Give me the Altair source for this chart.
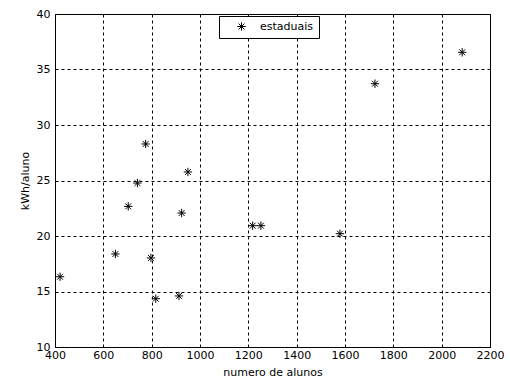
import altair as alt
import pandas as pd

# Number of students and energy use per student for each state school
alunos = [421, 650, 703, 741, 775, 797, 817, 913, 924, 950, 1218, 1252, 1579, 1724, 2085]
kwh_aluno = [16.33, 18.38, 22.67, 24.77, 28.29, 18.02, 14.35, 14.6, 22.07, 25.77,
             20.93, 20.93, 20.21, 33.72, 36.55]
serie = ["estaduais"] * len(alunos)

x_ticks = [400, 600, 800, 1000, 1200, 1400, 1600, 1800, 2000, 2200]
y_ticks = [10, 15, 20, 25, 30, 35, 40]

df = pd.DataFrame({"alunos": alunos, "kwh": kwh_aluno, "serie": serie})

# asterisk marker: a plus combined with a diagonal cross
ASTERISK = "M-1,0L1,0M0,-1L0,1M-0.7,-0.7L0.7,0.7M-0.7,0.7L0.7,-0.7"
FONT = "DejaVu Sans"

chart = (
    alt.Chart(df)
    .mark_point(shape=ASTERISK, filled=False, size=70, strokeWidth=1, opacity=1)
    .encode(
        x=alt.X(
            "alunos:Q",
            scale=alt.Scale(domain=[400, 2200], nice=False, zero=False),
            axis=alt.Axis(
                values=x_ticks,
                format="d",
                title="numero de alunos",
                titlePadding=6,
                labelPadding=2,
            ),
        ),
        y=alt.Y(
            "kwh:Q",
            scale=alt.Scale(domain=[10, 40], nice=False, zero=False),
            axis=alt.Axis(
                values=y_ticks,
                format="d",
                title="kWh/aluno",
                titlePadding=6,
                labelPadding=5,
            ),
        ),
        color=alt.Color(
            "serie:N",
            scale=alt.Scale(range=["#000000"]),
            legend=alt.Legend(
                title=None,
                orient="none",
                legendX=164,
                legendY=2,
                symbolType=ASTERISK,
                symbolSize=70,
                symbolStrokeWidth=1,
                symbolFillColor="transparent",
                symbolStrokeColor="#000000",
                symbolOffset=12,
                labelOffset=13,
                labelFont=FONT,
                labelFontSize=11,
                labelColor="#000000",
                labelExpr="datum.label + '   '",
                padding=5,
                strokeColor="#000000",
                fillColor="#ffffff",
            ),
        ),
    )
    .properties(
        width=435,
        height=333,
        background="#ffffff",
        autosize=alt.AutoSizeParams(type="none"),
        padding={"left": 55, "top": 14, "right": 20, "bottom": 36},
    )
    .configure_view(stroke="#000000", strokeWidth=1)
    .configure_axis(
        grid=True,
        gridColor="#000000",
        gridOpacity=1,
        gridWidth=1,
        gridDash=[3, 3],
        ticks=False,
        domain=True,
        domainColor="#000000",
        labelFont=FONT,
        labelFontSize=11,
        labelColor="#000000",
        titleFont=FONT,
        titleFontSize=11,
        titleFontWeight="normal",
        titleColor="#000000",
        labelFlush=False,
    )
)

chart.save("out.html", embed_options={"renderer": "svg", "actions": False})
